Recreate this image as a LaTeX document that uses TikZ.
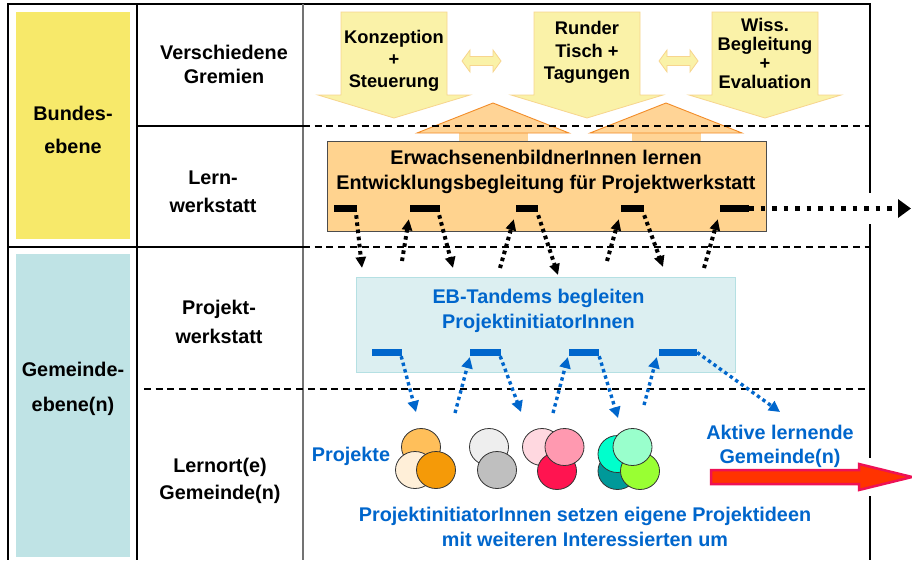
\documentclass[tikz,border=0pt]{standalone}
\usepackage{fontspec}
\setmainfont{Liberation Sans}
\usetikzlibrary{arrows.meta}
\definecolor{ybox}{HTML}{F7E96A}
\definecolor{tbox}{HTML}{BFE3E5}
\definecolor{yfill}{HTML}{FAF2A8}
\definecolor{yline}{HTML}{F7D58E}
\definecolor{ofill}{HTML}{FFD496}
\definecolor{oline}{HTML}{F28C28}
\definecolor{obox}{HTML}{FFD38F}
\definecolor{lbfill}{HTML}{DCEFF1}
\definecolor{lbline}{HTML}{B5E0E3}
\definecolor{eblue}{HTML}{0066CC}
\definecolor{redfill}{HTML}{FF3300}
\definecolor{redline}{HTML}{EE1155}
\tikzset{
  lbl/.style={font=\bfseries\fontsize{19.8}{24}\selectfont, align=center, inner sep=0pt},
  atxt/.style={font=\bfseries\fontsize{18.3}{22}\selectfont, align=center, inner sep=0pt},
  frame/.style={line width=1.3pt, black},
  dashline/.style={line width=1.8pt, black, dash pattern=on 7pt off 4.7pt},
  yarrow/.style={fill=yfill, draw=yline, line width=0.8pt},
  oarrow/.style={fill=ofill, draw=oline, line width=0.9pt},
  kdash/.style={fill=black, draw=none, inner sep=0pt, minimum height=7pt},
  bdash/.style={fill=eblue, draw=none, inner sep=0pt, minimum height=7pt},
  kdot/.style={line width=4pt, dash pattern=on 3.6pt off 3.6pt, -{Triangle[length=11pt,width=10pt]}},
  kdotbig/.style={line width=4.5pt, dash pattern=on 4.5pt off 7pt, -{Triangle[length=13pt,width=18pt]}},
  bdot/.style={eblue, line width=3.4pt, dash pattern=on 3.4pt off 3.3pt, -{Triangle[length=11pt,width=11pt]}},
  circ/.style={draw=black!80, line width=0.8pt},
}
\begin{document}
\begin{tikzpicture}[x=1pt,y=-1pt]
\useasboundingbox (0,0) rectangle (912,560);
\fill[white] (0,0) rectangle (912,560);

% level boxes
\fill[ybox] (16,12) rectangle (130,239);
\fill[tbox] (16,254) rectangle (130,557);
\node[lbl, font=\bfseries\fontsize{19.8}{33}\selectfont] (bund) at (73,130) {Bundes-\\ebene};
\node[lbl, font=\bfseries\fontsize{19.8}{35}\selectfont] (gem) at (73,389) {Gemeinde-\\ebene(n)};

% row labels
\node[lbl] (grem) at (224,64) {Verschiedene\\Gremien};
\node[lbl, font=\bfseries\fontsize{19.8}{28.4}\selectfont] (lern) at (213,191.5) {Lern-\\werkstatt};
\node[lbl, font=\bfseries\fontsize{19.8}{29}\selectfont] (proj) at (219,321.6) {Projekt-\\werkstatt};
\node[lbl, font=\bfseries\fontsize{19.8}{26.6}\selectfont] (ort) at (220,481) {Lernort(e)\\Gemeinde(n)};

% frame
\draw[frame] (8,3.4) -- (8,560);
\draw[frame] (8,4) -- (870,4);
\draw[frame] (137,4) -- (137,560);
\draw[frame, black!55] (303,4) -- (303,560);
\draw[frame] (870,3.4) -- (870,193);
\draw[frame] (870,224) -- (870,458);
\draw[frame] (870,496) -- (870,560);
\draw[frame] (137,126) -- (303,126);
\draw[frame] (8,247) -- (303,247);

% yellow down arrows
\foreach \c in {394,587,765}{
  \draw[yarrow] (\c-53,12) -- (\c+53,12) -- (\c+53,95) -- (\c+76,95) -- (\c,118) -- (\c-76,95) -- (\c-53,95) -- cycle;
}
\node[atxt] (konz) at (394,60.6) {Konzeption\\+\\Steuerung};
\node[atxt, font=\bfseries\fontsize{18.3}{22.5}\selectfont] (tisch) at (587,52.8) {Runder\\Tisch +\\Tagungen};
\node[atxt, font=\bfseries\fontsize{18.3}{18.9}\selectfont] (wiss) at (765,53.3) {Wiss.\\Begleitung\\+\\Evaluation};

% double arrows
\foreach \a in {462,659}{
  \draw[yarrow] (\a,61) -- (\a+8,50) -- (\a+8,56.5) -- (\a+31,56.5) -- (\a+31,50) -- (\a+39,61) -- (\a+31,72) -- (\a+31,65.5) -- (\a+8,65.5) -- (\a+8,72) -- cycle;
}

% orange up arrows
\foreach \c in {493,666}{
  \fill[ofill] (\c-34.5,132) rectangle (\c+34.5,142);
  \draw[oarrow] (\c-76,133) -- (\c,103) -- (\c+76,133) -- cycle;
}

% dashed separators
\draw[dashline] (303,126) -- (870,126);
\draw[dashline] (303,247) -- (870,247);
\draw[dashline] (144,389) -- (870,389);

% Lernwerkstatt box
\node[draw=black!70, fill=obox, line width=1pt, minimum width=439pt, minimum height=90pt, inner sep=0pt] (lw) at (546.5,186) {};
\node[lbl, font=\bfseries\fontsize{19.8}{24.3}\selectfont] (lwt) at (546,172) {ErwachsenenbildnerInnen lernen\\Entwicklungsbegleitung für Projektwerkstatt};

% black dashes
\node[kdash, minimum width=23pt] (k1) at (345.5,208.5) {};
\node[kdash, minimum width=30pt] (k2) at (425,208.5) {};
\node[kdash, minimum width=22pt] (k3) at (527,208.5) {};
\node[kdash, minimum width=23pt] (k4) at (632.5,208.5) {};
\node[kdash, minimum width=29pt] (k5) at (734.5,208.5) {};

% Projektwerkstatt box
\node[draw=lbline, fill=lbfill, line width=1pt, minimum width=379pt, minimum height=95pt, inner sep=0pt] (pw) at (545.5,324.5) {};
\node[lbl, text=eblue, font=\bfseries\fontsize{19.8}{25}\selectfont] (pwt) at (538.5,310.7) {EB-Tandems begleiten\\ProjektinitiatorInnen};

% blue dashes
\node[bdash, minimum width=30pt] (b1) at (387,352.5) {};
\node[bdash, minimum width=31pt] (b2) at (485.5,352.5) {};
\node[bdash, minimum width=30pt] (b3) at (584,352.5) {};
\node[bdash, minimum width=38pt] (b4) at (678,352.5) {};

% free ends of black arrows
\coordinate (kt1) at (362,268);
\coordinate (ks2) at (402,261);
\coordinate (kt2) at (453,268);
\coordinate (ks3) at (500,268);
\coordinate (kt3) at (558,275);
\coordinate (ks4) at (607,261);
\coordinate (kt4) at (663,267);
\coordinate (ks5) at (704,268);
\coordinate (kout) at (911,208.5);

\draw[kdot] ([xshift=-1pt,yshift=-3pt]k1.south east) -- (kt1);
\draw[kdot] (ks2) -- ([xshift=-1pt,yshift=-7pt]k2.south west);
\draw[kdot] ([xshift=-1pt,yshift=-3pt]k2.south east) -- (kt2);
\draw[kdot] (ks3) -- ([xshift=-2pt,yshift=-7pt]k3.south west);
\draw[kdot] ([yshift=-3pt]k3.south east) -- (kt3);
\draw[kdot] (ks4) -- ([xshift=-2pt,yshift=-7pt]k4.south west);
\draw[kdot] ([yshift=-3pt]k4.south east) -- (kt4);
\draw[kdot] (ks5) -- ([xshift=-2pt,yshift=-7pt]k5.south west);
\draw[kdotbig] (k5.east) -- (kout);

% free ends of blue arrows
\coordinate (bt1) at (416,412);
\coordinate (bs2) at (455,413);
\coordinate (bt2) at (521,412);
\coordinate (bs3) at (553,413);
\coordinate (bt3) at (618,418);
\coordinate (bs4) at (644,405);
\coordinate (bt4) at (780,412);

\draw[bdot] ([xshift=-1pt]b1.south east) -- (bt1);
\draw[bdot] (bs2) -- ([yshift=-1pt]b2.south west);
\draw[bdot] ([xshift=-1pt]b2.south east) -- (bt2);
\draw[bdot] (bs3) -- ([xshift=-1pt,yshift=-1pt]b3.south west);
\draw[bdot] (b3.south east) -- (bt3);
\draw[bdot] (bs4) -- ([xshift=-2pt,yshift=-1pt]b4.south west);
\draw[bdot] (b4.east) -- (bt4);

% project circles
\draw[circ, fill={rgb,255:red,255;green,191;blue,90}] (421,447) ellipse [x radius=19.5pt, y radius=18.5pt];
\draw[circ, fill={rgb,255:red,255;green,239;blue,216}] (415,470) ellipse [x radius=19.5pt, y radius=18.5pt];
\draw[circ, fill={rgb,255:red,245;green,154;blue,8}] (436,470) ellipse [x radius=19.5pt, y radius=18.5pt];

\draw[circ, fill={rgb,255:red,238;green,238;blue,238}] (489,447) ellipse [x radius=19.5pt, y radius=18.5pt];
\draw[circ, fill={rgb,255:red,191;green,191;blue,191}] (497,470) ellipse [x radius=19.5pt, y radius=18.5pt];

\draw[circ, fill={rgb,255:red,255;green,216;blue,224}] (542,447) ellipse [x radius=19.5pt, y radius=18.5pt];
\draw[circ, fill={rgb,255:red,255;green,20;blue,80}] (557,471) ellipse [x radius=19.5pt, y radius=18.5pt];
\draw[circ, fill={rgb,255:red,255;green,153;blue,176}] (564.5,447) ellipse [x radius=19.5pt, y radius=18.5pt];

\draw[circ, fill={rgb,255:red,0;green,153;blue,153}] (617.5,471) ellipse [x radius=19.5pt, y radius=18.5pt];
\draw[circ, fill={rgb,255:red,0;green,255;blue,204}] (617.5,454) ellipse [x radius=19.5pt, y radius=18.5pt];
\draw[circ, fill={rgb,255:red,153;green,255;blue,51}] (640,471) ellipse [x radius=19.5pt, y radius=18.5pt];
\draw[circ, fill={rgb,255:red,153;green,255;blue,204}] (632.5,447) ellipse [x radius=19.5pt, y radius=18.5pt];

\node[lbl, text=eblue, anchor=base] (projekte) at (351,461.7) {Projekte};
\node[lbl, text=eblue] (aktiv) at (780,446.2) {Aktive lernende\\Gemeinde(n)};

% red arrow
\draw[fill=redfill, draw=redline, line width=2.5pt, line join=miter] (711,470) -- (859,470) -- (859,464) -- (912,477) -- (859,490) -- (859,484) -- (711,484) -- cycle;

\node[lbl, text=eblue, font=\bfseries\fontsize{19.8}{25}\selectfont] (bottom) at (585,527) {ProjektinitiatorInnen setzen eigene Projektideen\\mit weiteren Interessierten um};
\end{tikzpicture}
\end{document}
